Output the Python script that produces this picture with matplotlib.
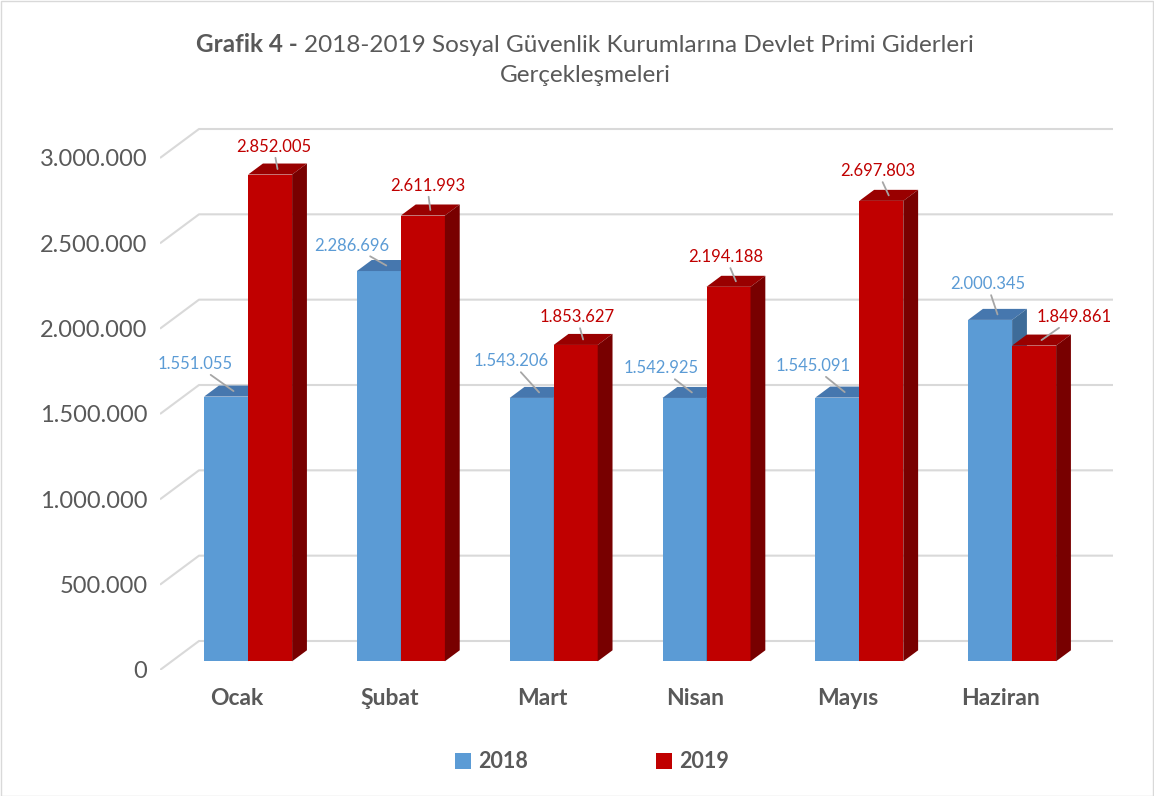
import numpy as np
import matplotlib
matplotlib.use('Agg')
import matplotlib.pyplot as plt
from matplotlib.patches import Polygon, Patch, Rectangle
from matplotlib.offsetbox import TextArea, HPacker, AnnotationBbox

plt.rcParams['font.family'] = ['Lato', 'DejaVu Sans']

# veriler
aylar = ['Ocak', 'Şubat', 'Mart', 'Nisan', 'Mayıs', 'Haziran']
deger_2018 = [1551055, 2286696, 1543206, 1542925, 1545091, 2000345]
deger_2019 = [2852005, 2611993, 1853627, 2194188, 2697803, 1849861]
y_ticks = [0, 500000, 1000000, 1500000, 2000000, 2500000, 3000000]

# etiket kaydirmalari (piksel, etiket merkezi - cubuk ust yuzu)
ofs_2018 = [(-38, 27), (-35, 20), (-28, 31), (-31, 24), (-32, 26), (-10, 30)]
ofs_2019 = [(-4, 22), (-3, 24), (-6, 22), (-10, 24), (-11, 24), (33, 23)]

renk_2018 = ('#5B9BD5', '#4677AE', '#3E6C99')   # on, ust, yan
renk_2019 = ('#C00000', '#990000', '#780000')
gri = '#595959'


def tr_fmt(v):
    return f"{v:,}".replace(",", ".")


W, H = 1154, 796
fig = plt.figure(figsize=(W / 100, H / 100), dpi=100)

# eksen: on duzlem 0 -> y=670px, 1 kategori = 152.8px, 1M = 170.67px
px_cat = 152.8
px_val = 170.67e-6
ax_l, ax_b, ax_w, ax_h = 160, 670, 956, 570
ax = fig.add_axes([ax_l / W, (H - ax_b) / H, ax_w / W, ax_h / H])
ax.set_xlim(-0.5, -0.5 + ax_w / px_cat)
ax.set_ylim(0, ax_h / px_val)

# derinlik kaydirmasi (3B gorunum)
DX = 39 / px_cat
DY = 29 / px_val
d0, d1 = 0.30, 0.68
dd = d1 - d0
w = 44 / px_cat
x_back_end = -0.5 + 953 / px_cat

# kilavuz cizgileri
for t in y_ticks:
    ax.plot([-0.5, -0.5 + DX, x_back_end], [t, t + DY, t + DY],
            color='#d9d9d9', lw=1.5, zorder=1, solid_capstyle='butt')

pos = np.arange(len(aylar)) + d0 * DX
taban = d0 * DY


def cubuk_ciz(xs, vals, renk):
    bars = ax.bar(xs, vals, w, bottom=taban, color=renk[0], zorder=3, linewidth=0)
    for b in bars:
        xl = b.get_x()
        xr = xl + b.get_width()
        yb = b.get_y()
        yt = yb + b.get_height()
        ust = Polygon([(xl, yt), (xr, yt), (xr + dd * DX, yt + dd * DY), (xl + dd * DX, yt + dd * DY)],
                      closed=True, facecolor=renk[1], edgecolor='none', zorder=3)
        yan = Polygon([(xr, yb), (xr, yt), (xr + dd * DX, yt + dd * DY), (xr + dd * DX, yb + dd * DY)],
                      closed=True, facecolor=renk[2], edgecolor='none', zorder=3)
        ax.add_patch(ust)
        ax.add_patch(yan)
    return bars


b18 = cubuk_ciz(pos - w / 2, deger_2018, renk_2018)
b19 = cubuk_ciz(pos + w / 2, deger_2019, renk_2019)

# veri etiketleri
for bars, vals, ofs, renk in [(b18, deger_2018, ofs_2018, renk_2018[0]),
                              (b19, deger_2019, ofs_2019, renk_2019[0])]:
    for b, v, o in zip(bars, vals, ofs):
        xc = b.get_x() + b.get_width() / 2 + dd * DX / 2
        yc = b.get_y() + b.get_height() + dd * DY / 2
        ax.annotate(tr_fmt(v), xy=(xc, yc), xytext=o, textcoords='offset pixels',
                    ha='center', va='center', fontsize=12, color=renk, zorder=5,
                    arrowprops=dict(arrowstyle='-', color='#a6a6a6', lw=1.3,
                                    shrinkA=0, shrinkB=0))

ax.set_yticks(y_ticks)
ax.set_yticklabels([tr_fmt(t) for t in y_ticks], fontsize=17, color=gri)
ax.set_xticks(np.arange(len(aylar)))
ax.set_xticklabels(aylar, fontsize=16.5, fontweight='bold', color=gri)
ax.tick_params(axis='y', length=0, pad=9)
ax.tick_params(axis='x', length=0, pad=13)
for s in ax.spines.values():
    s.set_visible(False)

# baslik
t1 = TextArea('Grafik 4 -', textprops=dict(fontsize=17.5, fontweight='bold', color=gri))
t2 = TextArea('2018-2019 Sosyal Güvenlik Kurumlarına Devlet Primi Giderleri',
              textprops=dict(fontsize=17.5, color=gri))
hp = HPacker(children=[t1, t2], align='baseline', pad=0, sep=5)
ab = AnnotationBbox(hp, (585 / W, 1 - 45 / H), xycoords='figure fraction',
                    frameon=False, box_alignment=(0.5, 0.5))
fig.add_artist(ab)
fig.text(585 / W, 1 - 76 / H, 'Gerçekleşmeleri', fontsize=17.5, color=gri,
         ha='center', va='center')

# lejant
handles = [Patch(facecolor=renk_2018[0], label='2018'),
           Patch(facecolor=renk_2019[0], label='2019')]
leg = fig.legend(handles=handles, loc='center', bbox_to_anchor=(592 / W, 1 - 762 / H),
                 ncol=2, frameon=False, handlelength=0.75, handleheight=0.75,
                 handletextpad=0.35, columnspacing=5.9,
                 prop=dict(size=15.5, weight='bold'))
for txt in leg.get_texts():
    txt.set_color(gri)

# grafik cercevesi
fig.add_artist(Rectangle((0.5 / W, 0.5 / H), 1 - 1.5 / W, 1 - 1.5 / H, transform=fig.transFigure,
                         fill=False, edgecolor='#d9d9d9', lw=1))

plt.savefig('out.png', dpi=100)
